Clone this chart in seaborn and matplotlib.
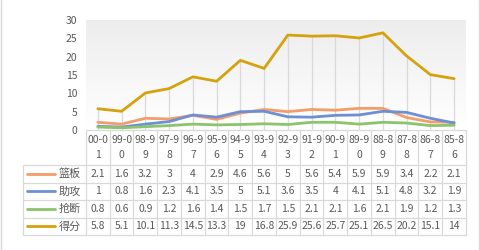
import matplotlib
matplotlib.use("Agg")
import matplotlib.pyplot as plt
import numpy as np
import pandas as pd
import seaborn as sns
from matplotlib.colors import LinearSegmentedColormap

sns.set_style("white")
plt.rcParams['font.family'] = ['Noto Sans CJK SC', 'DejaVu Sans']

categories = ["00-01", "99-00", "98-99", "97-98", "96-97", "95-96", "94-95", "93-94",
              "92-93", "91-92", "90-91", "89-90", "88-89", "87-88", "86-87", "85-86"]
series_names = ["篮板", "助攻", "抢断", "得分"]
rebounds = [2.1, 1.6, 3.2, 3, 4, 2.9, 4.6, 5.6, 5, 5.6, 5.4, 5.9, 5.9, 3.4, 2.2, 2.1]
assists = [1, 0.8, 1.6, 2.3, 4.1, 3.5, 5, 5.1, 3.6, 3.5, 4, 4.1, 5.1, 4.8, 3.2, 1.9]
steals = [0.8, 0.6, 0.9, 1.2, 1.6, 1.4, 1.5, 1.7, 1.5, 2.1, 2.1, 1.6, 2.1, 1.9, 1.2, 1.3]
points = [5.8, 5.1, 10.1, 11.3, 14.5, 13.3, 19, 16.8, 25.9, 25.6, 25.7, 25.1, 26.5, 20.2, 15.1, 14]
yticks = [0, 5, 10, 15, 20, 25, 30]
colors = ["#F59D6A", "#6D8FD5", "#8BC46A", "#D4A20C"]

values = [rebounds, assists, steals, points]
n = len(categories)
pos = list(range(n))
df = pd.DataFrame({
    "x": pos * len(series_names),
    "y": sum(values, []),
    "s": [s for s in series_names for _ in range(n)],
})

W, H = 481, 250
fig = plt.figure(figsize=(W / 100, H / 100), dpi=100)
ax = fig.add_axes([86 / W, 1 - 130 / H, 380 / W, 110 / H])
ax.set_xlim(-0.5, n - 0.5)
ax.set_ylim(0, 30)

grad = np.linspace(0, 1, 100).reshape(-1, 1)
cmap = LinearSegmentedColormap.from_list("g", ["#FFFFFF", "#EDEDED"])
ax.imshow(grad, extent=[-0.5, n - 0.5, 30, 0], aspect='auto', cmap=cmap, zorder=0, origin='upper')
ax.set_ylim(0, 30)

maxv = np.max(np.array(values), axis=0)
ax.vlines(pos, 0, maxv, color="#D9D9D9", lw=0.9, zorder=1)

sns.lineplot(data=df, x="x", y="y", hue="s", palette=colors, hue_order=series_names,
             sort=False, lw=2, ax=ax, legend=False, zorder=3)
ax.set_xlabel("")
ax.set_ylabel("")
ax.set_xticks([])
ax.set_yticks(yticks)
ax.set_yticklabels([str(t) for t in yticks], color="#595959", fontsize=7.5)
ax.tick_params(axis='y', length=0, pad=6)
for sp in ax.spines.values():
    sp.set_visible(False)

ov = fig.add_axes([0, 0, 1, 1])
ov.set_xlim(0, W)
ov.set_ylim(H, 0)
ov.axis("off")
ov.patch.set_alpha(0)

gc = "#D9D9D9"
x0, cw = 86, 23.75
xs = [x0 + i * cw for i in range(n + 1)]
rows = [165, 182.5, 200, 217.5, 235]
for x in xs:
    ov.plot([x, x], [130, 235], color=gc, lw=0.9)
ov.plot([xs[0], xs[-1]], [130, 130], color=gc, lw=0.9)
for y in rows:
    ov.plot([23, xs[-1]], [y, y], color=gc, lw=0.9)
ov.plot([23, 23], [165, 235], color=gc, lw=0.9)
ov.plot([1.5, 1.5], [0, H], color=gc, lw=1)
ov.plot([479.5, 479.5], [0, H], color=gc, lw=1)

tc = "#595959"
for i, c in enumerate(categories):
    cx = x0 + (i + 0.5) * cw
    ov.text(cx, 140, c[:4], ha="center", va="center", fontsize=7.5, color=tc)
    ov.text(cx, 155, c[4:], ha="center", va="center", fontsize=7.5, color=tc)

for r, (name, vals, col) in enumerate(zip(series_names, values, colors)):
    cy = (rows[r] + rows[r + 1]) / 2
    ov.plot([27, 55], [cy, cy], color=col, lw=2)
    ov.text(59, cy, name, ha="left", va="center", fontsize=8, color=tc)
    for i, v in enumerate(vals):
        cx = x0 + (i + 0.5) * cw
        ov.text(cx, cy, f"{v:g}", ha="center", va="center", fontsize=7.5, color=tc)

fig.savefig("out.png", dpi=100)
